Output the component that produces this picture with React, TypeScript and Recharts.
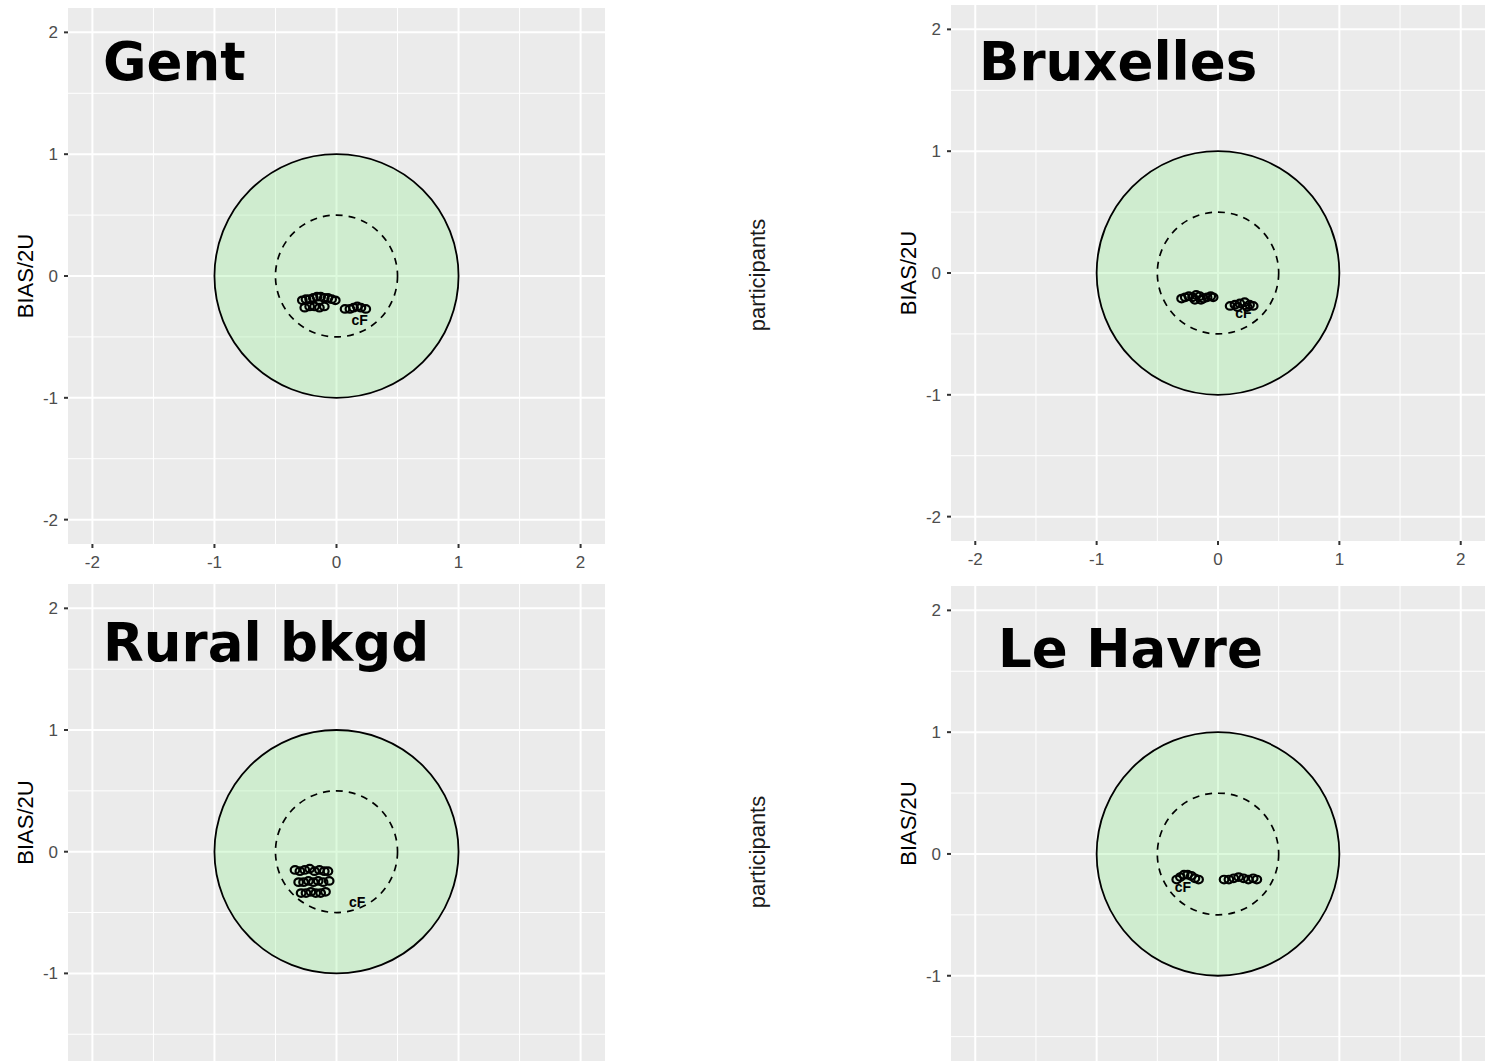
import React from 'react';
import {
  CartesianGrid,
  ReferenceArea,
  Scatter,
  ScatterChart,
  XAxis,
  YAxis,
} from 'recharts';

// Axes communs aux quatre panneaux (BIAS/2U en y, idem en x).
const MAJOR_TICKS = [-2, -1, 0, 1, 2];
const MINOR_LINES = [-1.5, -0.5, 0.5, 1.5];
const FULL_DOMAIN: [number, number] = [-2.2, 2.2];
// Les panneaux du bas sont coupés par le bord de l'image.
const RURAL_Y_DOMAIN: [number, number] = [-1.72, 2.2];
const HAVRE_Y_DOMAIN: [number, number] = [-1.7, 2.2];

// Gent
const GENT_X = [-0.28, -0.25, -0.22, -0.19, -0.16, -0.13, -0.1, -0.07, -0.04, -0.01, -0.26, -0.22, -0.18, -0.14, -0.1, 0.07, 0.11, 0.14, 0.17, 0.2, 0.24, 0.19];
const GENT_Y = [-0.2, -0.19, -0.19, -0.18, -0.17, -0.17, -0.18, -0.18, -0.19, -0.2, -0.26, -0.25, -0.25, -0.26, -0.25, -0.27, -0.27, -0.26, -0.25, -0.26, -0.27, -0.36];
const GENT_LABELS = ['o', 'o', 'o', 'o', 'o', 'o', 'o', 'o', 'o', 'o', 'o', 'o', 'o', 'o', 'o', 'o', 'o', 'o', 'o', 'o', 'o', 'cF'];

// Bruxelles
const BXL_X = [-0.3, -0.27, -0.24, -0.21, -0.18, -0.15, -0.12, -0.09, -0.06, -0.04, -0.19, -0.14, 0.1, 0.14, 0.18, 0.22, 0.26, 0.29, 0.16, 0.24, 0.21];
const BXL_Y = [-0.21, -0.2, -0.19, -0.2, -0.18, -0.19, -0.21, -0.2, -0.19, -0.2, -0.22, -0.22, -0.27, -0.26, -0.25, -0.24, -0.26, -0.27, -0.28, -0.28, -0.33];
const BXL_LABELS = ['o', 'o', 'o', 'o', 'o', 'o', 'o', 'o', 'o', 'o', 'o', 'o', 'o', 'o', 'o', 'o', 'o', 'o', 'o', 'o', 'cF'];

// Rural bkgd
const RURAL_X = [-0.34, -0.3, -0.26, -0.22, -0.18, -0.14, -0.1, -0.07, -0.31, -0.27, -0.23, -0.19, -0.15, -0.11, -0.06, -0.29, -0.25, -0.21, -0.17, -0.13, -0.09, 0.17];
const RURAL_Y = [-0.15, -0.16, -0.15, -0.14, -0.16, -0.15, -0.16, -0.16, -0.25, -0.25, -0.24, -0.25, -0.24, -0.25, -0.24, -0.34, -0.34, -0.33, -0.34, -0.34, -0.33, -0.41];
const RURAL_LABELS = ['o', 'o', 'o', 'o', 'o', 'o', 'o', 'o', 'o', 'o', 'o', 'o', 'o', 'o', 'o', 'o', 'o', 'o', 'o', 'o', 'o', 'cF'];

// Le Havre
const HAVRE_X = [-0.34, -0.31, -0.28, -0.25, -0.22, -0.19, -0.16, 0.05, 0.09, 0.13, 0.17, 0.21, 0.25, 0.29, 0.32, -0.29];
const HAVRE_Y = [-0.21, -0.19, -0.17, -0.17, -0.18, -0.2, -0.21, -0.21, -0.21, -0.2, -0.19, -0.2, -0.21, -0.2, -0.21, -0.27];
const HAVRE_LABELS = ['o', 'o', 'o', 'o', 'o', 'o', 'o', 'o', 'o', 'o', 'o', 'o', 'o', 'o', 'o', 'cF'];

type Pt = { x: number; y: number; label: string };

const toPoints = (xs: number[], ys: number[], labels: string[]): Pt[] =>
  xs.map((x, i) => ({ x, y: ys[i], label: labels[i] }));

const SANS = '"Liberation Sans", Arial, sans-serif';

const tickText = { fill: '#4D4D4D', fontSize: 17, fontFamily: SANS };
const tickLine = { stroke: '#333333', strokeWidth: 2 };

// Cercle inscrit dans le rectangle que ReferenceArea calcule via les échelles.
function ring(dashed: boolean) {
  return (props: any) => {
    const { x, y, width, height } = props;
    return (
      <ellipse
        cx={x + width / 2}
        cy={y + height / 2}
        rx={Math.abs(width) / 2}
        ry={Math.abs(height) / 2}
        fill={dashed ? 'none' : '#90EE90'}
        fillOpacity={dashed ? 0 : 0.3}
        stroke="#000"
        strokeWidth={dashed ? 1.7 : 1.8}
        strokeDasharray={dashed ? '7 6' : undefined}
      />
    );
  };
}

function Marker(props: any) {
  const { cx, cy, payload } = props;
  if (payload.label === 'o') {
    return (
      <ellipse cx={cx} cy={cy} rx={4.3} ry={3.8} fill="none" stroke="#000" strokeWidth={2.2} />
    );
  }
  return (
    <text
      x={cx}
      y={cy}
      dy="0.36em"
      textAnchor="middle"
      fontSize={14}
      fontWeight="bold"
      fontFamily={SANS}
      fill="#000"
    >
      {payload.label}
    </text>
  );
}

function Panel({
  points,
  left,
  top,
  width,
  height,
  marginTop,
  marginRight,
  yDomain,
  showX,
}: {
  points: Pt[];
  left: number;
  top: number;
  width: number;
  height: number;
  marginTop: number;
  marginRight: number;
  yDomain: [number, number];
  showX: boolean;
}) {
  const yTicks = MAJOR_TICKS.filter((t) => t >= yDomain[0] && t <= yDomain[1]);
  return (
    <div style={{ position: 'absolute', left, top }}>
      <ScatterChart
        width={width}
        height={height}
        margin={{ top: marginTop, right: marginRight, bottom: 0, left: 0 }}
      >
        <CartesianGrid
          fill="#EBEBEB"
          stroke="#FFFFFF"
          strokeWidth={1}
          horizontalValues={MINOR_LINES}
          verticalValues={MINOR_LINES}
        />
        <CartesianGrid
          stroke="#FFFFFF"
          strokeWidth={2}
          horizontalValues={MAJOR_TICKS}
          verticalValues={MAJOR_TICKS}
        />
        <XAxis
          type="number"
          dataKey="x"
          domain={FULL_DOMAIN}
          ticks={MAJOR_TICKS}
          allowDataOverflow
          hide={!showX}
          axisLine={false}
          tickLine={tickLine}
          tickSize={4}
          tickMargin={8}
          height={31}
          tick={tickText}
        />
        <YAxis
          type="number"
          dataKey="y"
          domain={yDomain}
          ticks={yTicks}
          allowDataOverflow
          axisLine={false}
          tickLine={tickLine}
          tickSize={4}
          tickMargin={6}
          width={68}
          tick={tickText}
          label={{
            value: 'BIAS/2U',
            angle: -90,
            position: 'insideLeft',
            offset: 25,
            style: { textAnchor: 'middle', fill: '#000', fontSize: 22, fontFamily: SANS },
          }}
        />
        <ReferenceArea x1={-1} x2={1} y1={-1} y2={1} shape={ring(false)} />
        <ReferenceArea x1={-0.5} x2={0.5} y1={-0.5} y2={0.5} shape={ring(true)} />
        <Scatter data={points} shape={Marker} isAnimationActive={false} />
      </ScatterChart>
    </div>
  );
}

const TITLE = { fontFamily: '"DejaVu Sans", sans-serif', fontWeight: 'bold' as const, fontSize: 53, fill: '#000' };
const SIDE = { fontFamily: SANS, fontSize: 22, fill: '#1A1A1A' };

export default function App() {
  return (
    <div
      style={{
        position: 'absolute',
        left: 0,
        top: 0,
        width: 1485,
        height: 1061,
        overflow: 'hidden',
        background: '#fff',
      }}
    >
      <Panel points={toPoints(GENT_X, GENT_Y, GENT_LABELS)} left={0} top={0} width={610} height={575} marginTop={8} marginRight={5} yDomain={FULL_DOMAIN} showX />
      <Panel points={toPoints(BXL_X, BXL_Y, BXL_LABELS)} left={883} top={0} width={602} height={572} marginTop={5} marginRight={0} yDomain={FULL_DOMAIN} showX />
      <Panel points={toPoints(RURAL_X, RURAL_Y, RURAL_LABELS)} left={0} top={576} width={610} height={485} marginTop={8} marginRight={5} yDomain={RURAL_Y_DOMAIN} showX={false} />
      <Panel points={toPoints(HAVRE_X, HAVRE_Y, HAVRE_LABELS)} left={883} top={581} width={602} height={480} marginTop={5} marginRight={0} yDomain={HAVRE_Y_DOMAIN} showX={false} />

      <svg
        width={1485}
        height={1061}
        style={{ position: 'absolute', left: 0, top: 0, pointerEvents: 'none' }}
      >
        <text x={103} y={80} {...TITLE}>Gent</text>
        <text x={979} y={80} {...TITLE}>Bruxelles</text>
        <text x={103} y={661} {...TITLE}>Rural bkgd</text>
        <text x={998} y={667} {...TITLE}>Le Havre</text>
        <text x={765} y={275} textAnchor="middle" transform="rotate(-90 765 275)" {...SIDE}>participants</text>
        <text x={765} y={852} textAnchor="middle" transform="rotate(-90 765 852)" {...SIDE}>participants</text>
      </svg>
    </div>
  );
}
